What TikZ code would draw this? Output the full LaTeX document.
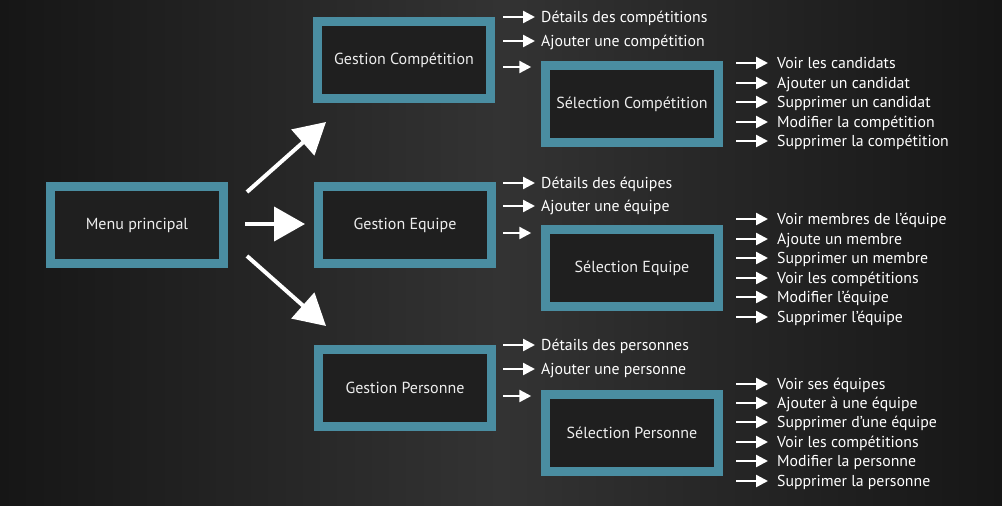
\documentclass[tikz,border=0pt]{standalone}
\usepackage{fontspec}
\setmainfont{PT Sans}
\usetikzlibrary{arrows.meta}
\definecolor{fond}{HTML}{333333}
\definecolor{fondbord}{HTML}{161616}
\definecolor{bord}{HTML}{4A8DA1}
\definecolor{boite}{HTML}{1F1F1F}
\definecolor{texte}{HTML}{EDEDED}

\begin{document}
\begin{tikzpicture}[x=1pt,y=-1pt,
  ecran/.style={draw=bord,fill=boite,line width=8.5pt,minimum width=173pt,minimum height=77pt,text=texte,font=\fontsize{16}{18}\selectfont},
  choix/.style={anchor=west,inner sep=0pt,text=white,text height=13pt,text depth=3pt,font=\fontsize{15.8}{18}\selectfont},
  fleche/.style={draw=white,line width=2.4pt,-{Triangle[length=12pt,width=12pt]},shorten >=6pt},
  grande/.style={draw=white,line width=4pt,-{Triangle[length=31pt,width=34pt]}}]

% fond
\shade[left color=fondbord,right color=fondbord,middle color=fond] (0,0) rectangle (1002,506);

\node[ecran] (M) at (137,225) {Menu principal};
\node[ecran] (GC) at (404,60) {Gestion Compétition};
\node[ecran] (SC) at (632,104) {Sélection Compétition};
\node[ecran] (GE) at (405,225) {Gestion Equipe};
\node[ecran] (SE) at (632,268) {Sélection Equipe};
\node[ecran] (GP) at (405,388) {Gestion Personne};
\node[ecran] (SP) at (632,433) {Sélection Personne};

% grandes fleches du menu
\coordinate (m1) at (247,192);
\coordinate (m2) at (245,224);
\coordinate (m3) at (247,256);
\coordinate (h1) at (326,122);
\coordinate (h2) at (305,224);
\coordinate (h3) at (326,326);
\draw[grande] (m1) -- (h1);
\draw[grande] (m2) -- (h2);
\draw[grande] (m3) -- (h3);

% competitions
\foreach \y/\t [count=\i] in {17/Détails des compétitions,41/Ajouter une compétition}{
  \coordinate (gc\i) at (503,\y);
  \node[choix] (tgc\i) at (541,\y) {\t};
  \draw[fleche] (gc\i) -- (tgc\i);
}
\coordinate (gc3) at (503,67);
\draw[fleche,shorten >=10pt] (gc3) -- (gc3 -| SC.west);
\foreach \y/\t [count=\i] in {63/Voir les candidats,83/Ajouter un candidat,102/Supprimer un candidat,122/Modifier la compétition,141/Supprimer la compétition}{
  \coordinate (sc\i) at (736,\y);
  \node[choix] (tsc\i) at (777,\y) {\t};
  \draw[fleche,shorten >=9pt] (sc\i) -- (tsc\i);
}

% equipes
\foreach \y/\t [count=\i] in {183/Détails des équipes,206/Ajouter une équipe}{
  \coordinate (ge\i) at (503,\y);
  \node[choix] (tge\i) at (541,\y) {\t};
  \draw[fleche] (ge\i) -- (tge\i);
}
\coordinate (ge3) at (503,233);
\draw[fleche,shorten >=10pt] (ge3) -- (ge3 -| SE.west);
\foreach \y/\t [count=\i] in {219/Voir membres de l’équipe,239/Ajoute un membre,258/Supprimer un membre,278/Voir les compétitions,297/Modifier l’équipe,317/Supprimer l’équipe}{
  \coordinate (se\i) at (736,\y);
  \node[choix] (tse\i) at (777,\y) {\t};
  \draw[fleche,shorten >=9pt] (se\i) -- (tse\i);
}

% personnes
\foreach \y/\t [count=\i] in {345/Détails des personnes,369/Ajouter une personne}{
  \coordinate (gp\i) at (503,\y);
  \node[choix] (tgp\i) at (541,\y) {\t};
  \draw[fleche] (gp\i) -- (tgp\i);
}
\coordinate (gp3) at (503,396);
\draw[fleche,shorten >=10pt] (gp3) -- (gp3 -| SP.west);
\foreach \y/\t [count=\i] in {384/Voir ses équipes,403/Ajouter à une équipe,422/Supprimer d’une équipe,442/Voir les compétitions,461/Modifier la personne,481/Supprimer la personne}{
  \coordinate (sp\i) at (736,\y);
  \node[choix] (tsp\i) at (777,\y) {\t};
  \draw[fleche,shorten >=9pt] (sp\i) -- (tsp\i);
}

\end{tikzpicture}
\end{document}
